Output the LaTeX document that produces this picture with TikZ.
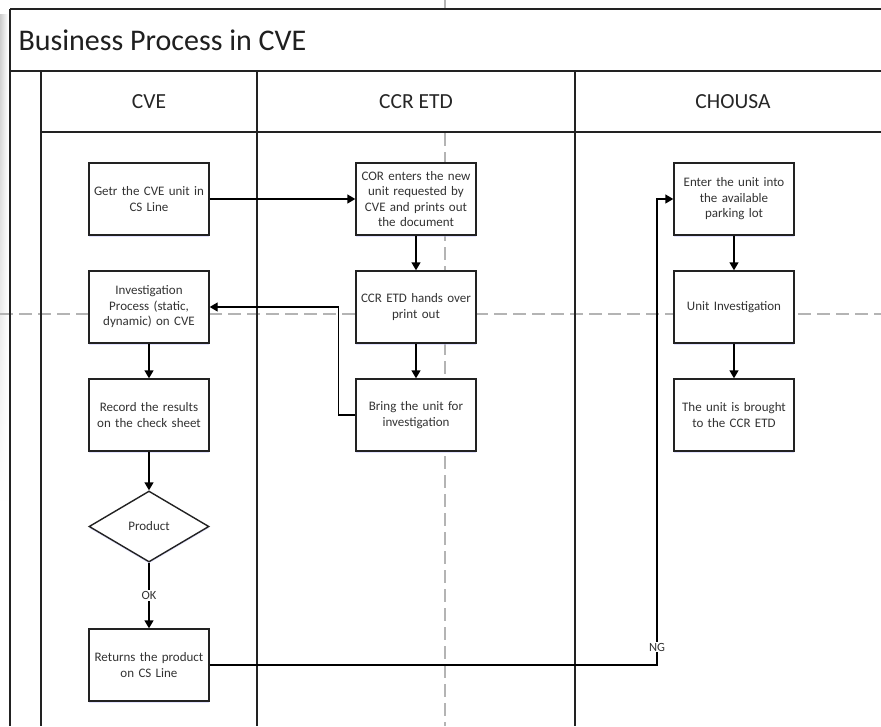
\documentclass[tikz,border=0pt]{standalone}
\usepackage{fontspec}
\setmainfont{Carlito}
\usetikzlibrary{arrows.meta,shapes.geometric,shadows,fadings}
\definecolor{framec}{HTML}{222222}
\definecolor{guidec}{HTML}{B4B4B4}
\definecolor{txtc}{HTML}{333333}
\begin{document}
\begin{tikzpicture}[x=1pt,y=-1pt,
  frame/.style={draw=framec,line width=1.4pt},
  guide/.style={draw=guidec,line width=1.3pt,dash pattern=on 13pt off 6pt},
  boxshadow/.style={drop shadow={shadow xshift=0pt,shadow yshift=-1.6pt,fill=blue!25,opacity=0.45}},
  procbox/.style={draw=framec,line width=1.4pt,fill=white,boxshadow,
    minimum width=120pt,minimum height=72pt,text width=118pt,inner sep=1pt,
    align=center,font=\fontsize{13}{15.5}\selectfont,text=txtc},
  decision/.style={diamond,draw=framec,line width=1.4pt,fill=white,boxshadow,
    aspect=1.69,minimum width=120pt,minimum height=71pt,inner sep=0pt,
    font=\fontsize{13}{15.5}\selectfont,text=txtc},
  arr/.style={draw=black,line width=1.4pt,-{Triangle[length=8pt,width=9pt]}},
  lanehead/.style={font=\fontsize{21.5}{24}\selectfont,text=black!85},
  edgelabel/.style={fill=white,inner sep=1pt,font=\fontsize{12.5}{14}\selectfont,text=txtc}]

\useasboundingbox (0,0) rectangle (881,726);
\fill[white] (0,0) rectangle (881,726);

% soft page edge on the left
\shade[left color=black!20,right color=white,path fading=south] (0,14) rectangle (8,500);

% page-break guides
\draw[guide] (445,0) -- (445,726);
\draw[guide] (0,314) -- (881,314);

% title and lane header rows (opaque, they hide the guides)
\fill[white] (10,9) rectangle (881,132);
\draw[frame] (10,9) -- (881,9);
\draw[frame] (10,9) -- (10,726);
\draw[frame] (10,71) -- (881,71);
\draw[frame] (41,71) -- (41,726);
\draw[frame] (41,132) -- (881,132);
\draw[frame] (257,71) -- (257,726);
\draw[frame] (575,71) -- (575,726);

\node[anchor=west,font=\fontsize{30}{34}\selectfont,text=black!88] (title) at (15,40) {Business Process in CVE};
\node[lanehead] (hcve) at (149,102) {CVE};
\node[lanehead] (hccr) at (416,102) {CCR ETD};
\node[lanehead] (hchousa) at (733,102) {CHOUSA};

% process steps
\node[procbox] (getr) at (149,199) {Getr the CVE unit in\\CS Line};
\node[procbox] (cor) at (416,199) {COR enters the new\\unit requested by\\CVE and prints out\\the document};
\node[procbox] (hands) at (416,307) {CCR ETD hands over\\print out};
\node[procbox] (invproc) at (149,307) {Investigation\\Process (static,\\dynamic) on CVE};
\node[procbox] (record) at (149,415) {Record the results\\on the check sheet};
\node[procbox] (bring) at (416,415) {Bring the unit for\\investigation};
\node[procbox] (enter) at (734,199) {Enter the unit into\\the available\\parking lot};
\node[procbox] (unitinv) at (734,307) {Unit Investigation};
\node[procbox] (brought) at (734,415) {The unit is brought\\to the CCR ETD};
\node[decision] (product) at (149,526.5) {Product};
\node[procbox] (returns) at (149,665) {Returns the product\\on CS Line};

% connectors
\draw[arr] (getr.east) -- (cor.west);
\draw[arr] (cor.south) -- (hands.north);
\draw[arr] (hands.south) -- (bring.north);
\draw[arr] (bring.west) -- ++(-17,0) |- (invproc.east);
\draw[arr] (invproc.south) -- (record.north);
\draw[arr] (record.south) -- (product.north);
\draw[arr] (product.south) -- node[edgelabel,pos=0.5] (ok) {OK} (returns.north);
\coordinate (ngturn) at (657,665);
\draw[arr] (returns.east) -- (ngturn) |- (enter.west);
\node[edgelabel] (ng) at (657,647) {NG};
\draw[arr] (enter.south) -- (unitinv.north);
\draw[arr] (unitinv.south) -- (brought.north);
\end{tikzpicture}
\end{document}
